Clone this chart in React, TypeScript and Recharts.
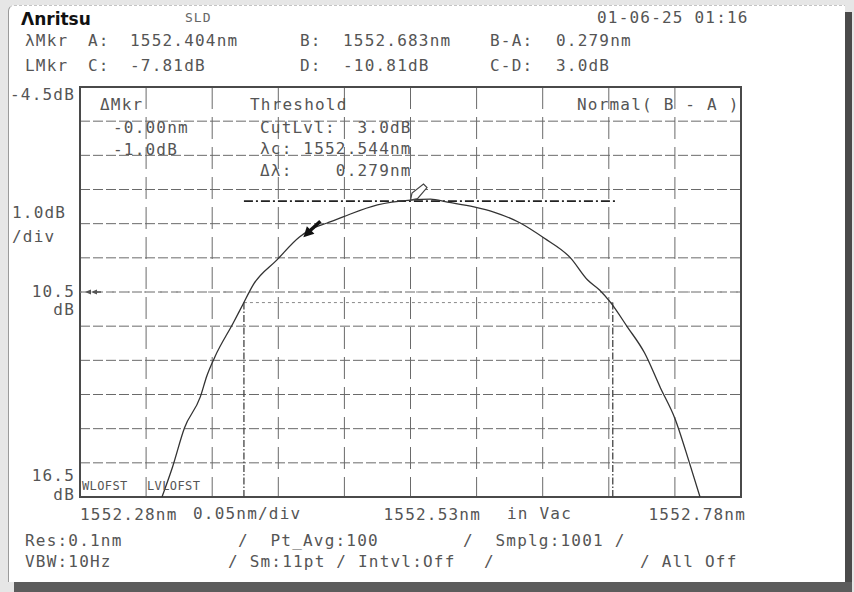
import React from 'react';
import {
  ComposedChart,
  Line,
  XAxis,
  YAxis,
  CartesianGrid,
  ReferenceLine,
  ReferenceArea,
  ReferenceDot,
} from 'recharts';

// ---- data ----
const wavelengthNm = [
  1552.342, 1552.35, 1552.359, 1552.371, 1552.376, 1552.382, 1552.396, 1552.403, 1552.411,
  1552.429, 1552.446, 1552.454, 1552.467, 1552.479, 1552.505, 1552.53, 1552.545, 1552.558,
  1552.578, 1552.593, 1552.613, 1552.631, 1552.651, 1552.664, 1552.673, 1552.681, 1552.694,
  1552.707, 1552.719, 1552.73, 1552.741, 1552.749,
];
const levelDb = [
  -16.5, -15.62, -14.48, -13.57, -12.95, -12.4, -11.4, -10.88, -10.29,
  -9.56, -8.89, -8.68, -8.48, -8.3, -7.95, -7.81, -7.78, -7.87,
  -8.01, -8.16, -8.48, -8.92, -9.5, -10.15, -10.44, -10.79, -11.52,
  -12.28, -13.3, -14.2, -15.5, -16.5,
];
const xTicks = [1552.28, 1552.33, 1552.38, 1552.43, 1552.48, 1552.53, 1552.58, 1552.63, 1552.68, 1552.73, 1552.78];
const yTicks = [-4.5, -5.5, -6.5, -7.5, -8.5, -9.5, -10.5, -11.5, -12.5, -13.5, -14.5, -15.5, -16.5];
const xTickLabels: Record<string, string> = {
  '1552.28': '1552.28nm',
  '1552.53': '1552.53nm',
  '1552.78': '1552.78nm',
};
const yTickLabels: Record<string, string[]> = {
  '-4.5': ['-4.5dB'],
  '-10.5': ['10.5', 'dB'],
  '-16.5': ['16.5', 'dB'],
};
const markerA = 1552.404;
const markerB = 1552.683;
const markerC = -7.81;
const markerD = -10.81;
const thresholdLevel = -7.84;
const refLevel = -10.5;
const xDomain: [number, number] = [1552.28, 1552.78];
const yDomain: [number, number] = [-16.5, -4.5];

const data = wavelengthNm.map((wl, i) => ({ wl, db: levelDb[i] }));

const FONT = '"DejaVu Sans Mono", "Liberation Mono", monospace';
const TXT = '#555';

function T({ x, y, children, size = 16, ls = 1.2, color = TXT, weight = 400, family = FONT }: any) {
  return (
    <div
      style={{
        position: 'absolute',
        left: x,
        top: y - 9,
        height: 18,
        lineHeight: '18px',
        fontFamily: family,
        fontSize: size,
        letterSpacing: ls,
        color,
        fontWeight: weight,
        whiteSpace: 'pre',
      }}
    >
      {children}
    </div>
  );
}

const XTick = (props: any) => {
  const { x, y, payload } = props;
  const key = Number(payload.value).toFixed(2);
  const label = xTickLabels[key];
  if (!label) return null;
  let anchor: 'start' | 'end' = 'start';
  let tx = x;
  if (key === '1552.53') tx = x - 27;
  if (key === '1552.78') {
    anchor = 'end';
    tx = x + 5;
  }
  return (
    <text x={tx} y={y + 17} textAnchor={anchor} dominantBaseline="central" fontFamily={FONT} fontSize={16} letterSpacing={1.2} fill={TXT}>
      {label}
    </text>
  );
};

const YTick = (props: any) => {
  const { y, payload } = props;
  const key = String(payload.value);
  const lines = yTickLabels[key];
  if (!lines) return null;
  const offsets = key === '-4.5' ? [7] : key === '-10.5' ? [-1, 17] : [-22, -3];
  return (
    <g>
      {lines.map((l, i) => (
        <text key={i} x={75} y={y + offsets[i]} textAnchor="end" dominantBaseline="central" fontFamily={FONT} fontSize={16} letterSpacing={1.2} fill={TXT}>
          {l}
        </text>
      ))}
    </g>
  );
};

const FilledArrow = (p: any) => {
  const { cx, cy } = p;
  if (cx == null || cy == null) return null;
  const tx = cx - 4, ty = cy + 4;
  return (
    <g>
      <polygon points={`${tx},${ty} ${cx + 7},${cy + 0.5} ${cx - 0.5},${cy - 7}`} fill="#111" />
      <line x1={cx + 2} y1={cy - 2} x2={cx + 13} y2={cy - 12} stroke="#111" strokeWidth={3.5} />
    </g>
  );
};

const OpenMarker = (p: any) => {
  const { cx, cy } = p;
  if (cx == null || cy == null) return null;
  return (
    <polygon
      points={`${cx},${cy} ${cx + 1.5},${cy - 7} ${cx + 13},${cy - 16} ${cx + 16.5},${cy - 12.5} ${cx + 7},${cy - 1.5}`}
      fill="#fff"
      stroke="#444"
      strokeWidth={1.2}
    />
  );
};

const RefArrow = (p: any) => {
  const { viewBox } = p;
  if (!viewBox) return null;
  const x = viewBox.x + 5;
  const y = viewBox.y;
  return (
    <g fill="#555">
      <polygon points={`${x},${y} ${x + 6},${y - 2.5} ${x + 6},${y + 2.5}`} />
      <polygon points={`${x + 6},${y} ${x + 12},${y - 2.5} ${x + 12},${y + 2.5}`} />
      <line x1={x + 12} y1={y} x2={x + 16} y2={y} stroke="#555" strokeWidth={1.5} />
    </g>
  );
};

export default function App() {
  return (
    <div style={{ position: 'relative', width: 854, height: 592, background: '#e6e6e6', overflow: 'hidden' }}>
      <style>{'body{margin:0}'}</style>
      {/* panel */}
      <div
        style={{
          position: 'absolute',
          left: 8,
          top: 5,
          width: 837,
          height: 577,
          background: '#fff',
          borderLeft: '1px solid #9a9a9a',
          borderTop: '1px dashed #c4c4c4',
          borderTopLeftRadius: 6,
          boxSizing: 'border-box',
        }}
      />
      <div style={{ position: 'absolute', left: 845, top: 12, width: 7, height: 580, background: '#4a4a4a' }} />
      <div style={{ position: 'absolute', left: 14, top: 582, width: 838, height: 10, background: '#5c5c5c' }} />

      <div style={{ position: 'absolute', left: 0, top: 0 }}>
        <ComposedChart width={854} height={592} data={data} margin={{ top: 87, right: 113, bottom: 65, left: 8 }}>
          <CartesianGrid vertical={false} stroke="#6a6a6a" strokeDasharray="10 3" />
          <CartesianGrid horizontal={false} stroke="#6a6a6a" strokeDasharray="22 8" />
          <XAxis
            dataKey="wl"
            type="number"
            domain={xDomain}
            ticks={xTicks}
            allowDataOverflow
            axisLine={false}
            tickLine={false}
            tickSize={0}
            tickMargin={0}
            height={30}
            tick={<XTick />}
            interval={0}
          />
          <YAxis
            type="number"
            domain={yDomain}
            ticks={yTicks}
            allowDataOverflow
            axisLine={false}
            tickLine={false}
            tickSize={0}
            tickMargin={0}
            width={72}
            tick={<YTick />}
            interval={0}
          />
          <ReferenceLine y={refLevel} stroke="#8a8a8a" strokeDasharray="2 14" label={<RefArrow />} />
          <ReferenceLine
            segment={[{ x: markerA, y: markerD }, { x: markerB, y: markerD }]}
            stroke="#8a8a8a"
            strokeDasharray="3 3"
          />
          <ReferenceLine
            segment={[{ x: markerA, y: markerD }, { x: markerA, y: -16.5 }]}
            stroke="#444"
            strokeDasharray="7 2 1.5 2"
            strokeWidth={1.3}
          />
          <ReferenceLine
            segment={[{ x: markerB, y: markerD }, { x: markerB, y: -16.5 }]}
            stroke="#444"
            strokeDasharray="7 2 1.5 2"
            strokeWidth={1.3}
          />
          <ReferenceLine
            segment={[{ x: markerA, y: thresholdLevel }, { x: markerB + 0.002, y: thresholdLevel }]}
            stroke="#222"
            strokeDasharray="9 3 2 3"
            strokeWidth={1.6}
          />
          <ReferenceArea x1={xDomain[0]} x2={xDomain[1]} y1={yDomain[0]} y2={yDomain[1]} fill="none" stroke="#4a4a4a" strokeWidth={2} />
          <Line dataKey="db" type="monotone" stroke="#333" strokeWidth={1.3} dot={false} isAnimationActive={false} />
          <ReferenceDot x={1552.452} y={-8.78} r={0} shape={<FilledArrow />} />
          <ReferenceDot x={1552.53} y={markerC} r={0} shape={<OpenMarker />} />
        </ComposedChart>
      </div>

      {/* header */}
      <T x={21} y={19} size={17} ls={0} color="#111" weight={700} family='"DejaVu Sans", sans-serif'>
        Λnritsu
      </T>
      <T x={185} y={18} size={13} ls={1} color="#666">SLD</T>
      <T x={597} y={18}>01-06-25 01:16</T>

      <T x={25} y={41}>λMkr</T>
      <T x={88} y={41}>A:</T>
      <T x={130} y={41}>1552.404nm</T>
      <T x={300} y={41}>B:</T>
      <T x={343} y={41}>1552.683nm</T>
      <T x={490} y={41}>B-A:</T>
      <T x={556} y={41}>0.279nm</T>

      <T x={25} y={66}>LMkr</T>
      <T x={88} y={66}>C:</T>
      <T x={130} y={66}>-7.81dB</T>
      <T x={300} y={66}>D:</T>
      <T x={343} y={66}>-10.81dB</T>
      <T x={490} y={66}>C-D:</T>
      <T x={556} y={66}>3.0dB</T>

      {/* left scale notes */}
      <T x={12} y={213}>1.0dB</T>
      <T x={12} y={237}>/div</T>

      {/* inside-plot annotation */}
      <T x={100} y={105}>ΔMkr</T>
      <T x={113} y={128}>-0.00nm</T>
      <T x={113} y={150}>-1.0dB</T>
      <T x={250} y={105}>Threshold</T>
      <T x={260} y={128}>{'CutLvl:  3.0dB'}</T>
      <T x={260} y={149}>{'λc: 1552.544nm'}</T>
      <T x={260} y={171}>{'Δλ:    0.279nm'}</T>
      <T x={577} y={105}>{'Normal( B - A )'}</T>
      <T x={82} y={486} size={12} ls={0.4}>WLOFST</T>
      <T x={147} y={486} size={12} ls={0.4}>LVLOFST</T>

      {/* x-axis notes */}
      <T x={193} y={514}>0.05nm/div</T>
      <T x={507} y={514}>in Vac</T>

      {/* footer */}
      <T x={25} y={541}>Res:0.1nm</T>
      <T x={238} y={541}>{'/  Pt_Avg:100'}</T>
      <T x={463} y={541}>{'/  Smplg:1001 /'}</T>
      <T x={25} y={562}>VBW:10Hz</T>
      <T x={228} y={562}>{'/ Sm:11pt / Intvl:Off'}</T>
      <T x={484} y={562}>/</T>
      <T x={640} y={562}>/ All Off</T>
    </div>
  );
}
